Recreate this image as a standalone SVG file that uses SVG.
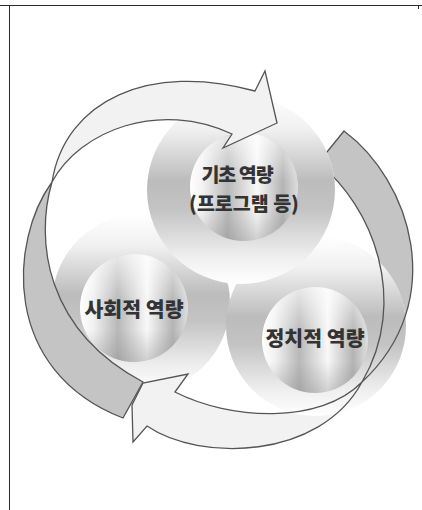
<svg xmlns="http://www.w3.org/2000/svg" width="422" height="510" viewBox="0 0 422 510">
<style>
.frame{stroke:#2a2a2a;stroke-width:1;fill:none}
.lbl{font-family:'Noto Sans CJK KR','Noto Sans',sans-serif;font-weight:900;font-size:20.5px;fill:#333;text-anchor:middle}
.lbl2{font-size:19.5px}
.edge{fill:none;stroke:#555;stroke-width:1.3;stroke-linejoin:miter}
.light{fill:#f2f2f2}
.gray{fill:#c4c4c4}
</style>
<defs>
<linearGradient id="ring" x1="0" y1="0" x2="0" y2="1">
<stop offset="0" stop-color="#ffffff"/>
<stop offset="0.18" stop-color="#f0f0f0"/>
<stop offset="0.45" stop-color="#bcbcbc"/>
<stop offset="0.6" stop-color="#c3c3c3"/>
<stop offset="0.85" stop-color="#eeeeee"/>
<stop offset="1" stop-color="#ffffff"/>
</linearGradient>
<linearGradient id="core" x1="0" y1="0" x2="1" y2="0">
<stop offset="0" stop-color="#ffffff"/>
<stop offset="0.12" stop-color="#f2f2f2"/>
<stop offset="0.35" stop-color="#b8b8b8"/>
<stop offset="0.62" stop-color="#f8f8f8"/>
<stop offset="0.86" stop-color="#b4b4b4"/>
<stop offset="1" stop-color="#dedede"/>
</linearGradient>
<linearGradient id="shade" x1="0" y1="0" x2="0" y2="1">
<stop offset="0" stop-color="#ffffff" stop-opacity="0.7"/>
<stop offset="0.45" stop-color="#ffffff" stop-opacity="0"/>
<stop offset="0.7" stop-color="#808080" stop-opacity="0"/>
<stop offset="1" stop-color="#808080" stop-opacity="0.35"/>
</linearGradient>
<mask id="mB" maskUnits="userSpaceOnUse" x="0" y="0" width="422" height="510">
<rect width="422" height="510" fill="#fff"/>
<circle cx="241" cy="190" r="94" fill="#000"/>
<circle cx="316" cy="326" r="90" fill="#000"/>
</mask>
<mask id="mBs" maskUnits="userSpaceOnUse" x="0" y="0" width="422" height="510">
<rect width="422" height="510" fill="#fff"/>
<circle cx="241" cy="190" r="94" fill="#000"/>
</mask>
<mask id="mC" maskUnits="userSpaceOnUse" x="0" y="0" width="422" height="510">
<rect width="422" height="510" fill="#fff"/>
<circle cx="316" cy="326" r="90" fill="#000"/>
</mask>
</defs>
<rect width="422" height="510" fill="#fff"/>
<g id="frame">
<line class="frame" x1="0" y1="5.5" x2="422" y2="5.5"/>
<line class="frame" x1="9.5" y1="5" x2="9.5" y2="510"/>
<line class="frame" x1="418.5" y1="5" x2="418.5" y2="9"/>
</g>
<g id="node-social">
<circle cx="141" cy="303" r="89" fill="url(#ring)"/>
<circle cx="134" cy="308" r="54" fill="url(#core)"/>
<circle cx="134" cy="308" r="54" fill="url(#shade)"/>
<text class="lbl" x="134" y="317">사회적 역량</text>
</g>
<g id="node-political">
<circle cx="316" cy="326" r="90" fill="url(#ring)"/>
<circle cx="315" cy="340" r="53" fill="url(#core)"/>
<circle cx="315" cy="340" r="53" fill="url(#shade)"/>
<text class="lbl" x="315" y="346">정치적 역량</text>
</g>
<g id="node-basic">
<circle cx="241" cy="190" r="94" fill="url(#ring)"/>
<circle cx="244" cy="187" r="54" fill="url(#core)"/>
<circle cx="244" cy="187" r="54" fill="url(#shade)"/>
<text class="lbl lbl2" x="237" y="182" letter-spacing="-1">기초 역량</text>
<text class="lbl lbl2" x="244" y="211">(프로그램 등)</text>
</g>
<g id="connectors">
<g id="arrow-right">
<path class="gray" mask="url(#mB)" d="M344,131 C410,180 450,300 362,382 C410,300 372,205 318,163 Z"/>
<path class="edge" mask="url(#mBs)" d="M318,163 L344,131 C410,180 450,300 362,382 C410,300 372,205 318,163"/>
</g>
<g id="arrow-top">
<path class="light" d="M52,182 C65,100 150,62 255,91 L265,71 L277,123 L223,148 L232,134 C160,100 80,130 52,182 Z"/>
<path class="edge" d="M52,182 C65,100 150,62 255,91 L265,71 L277,123 L223,148 L232,134 C160,100 80,130 52,182 Z"/>
</g>
<g id="arrow-left">
<path class="gray" d="M52,182 C10,240 0,370 123,418 L143,382 C45,330 35,240 52,182 Z"/>
<path class="edge" d="M52,182 C10,240 0,370 123,418 L143,382 C45,330 35,240 52,182 Z"/>
</g>
<g id="arrow-bottom">
<path class="light" mask="url(#mC)" d="M175,392 L188,374 L143,383 L132,405 L133,442 L147,426 C200,462 320,460 362,382 C320,425 230,420 175,392 Z"/>
<path class="edge" d="M175,392 L188,374 L143,383 L132,405 L133,442 L147,426 C200,462 320,460 362,382 C320,425 230,420 175,392 Z"/>
</g>
</g>
</svg>
